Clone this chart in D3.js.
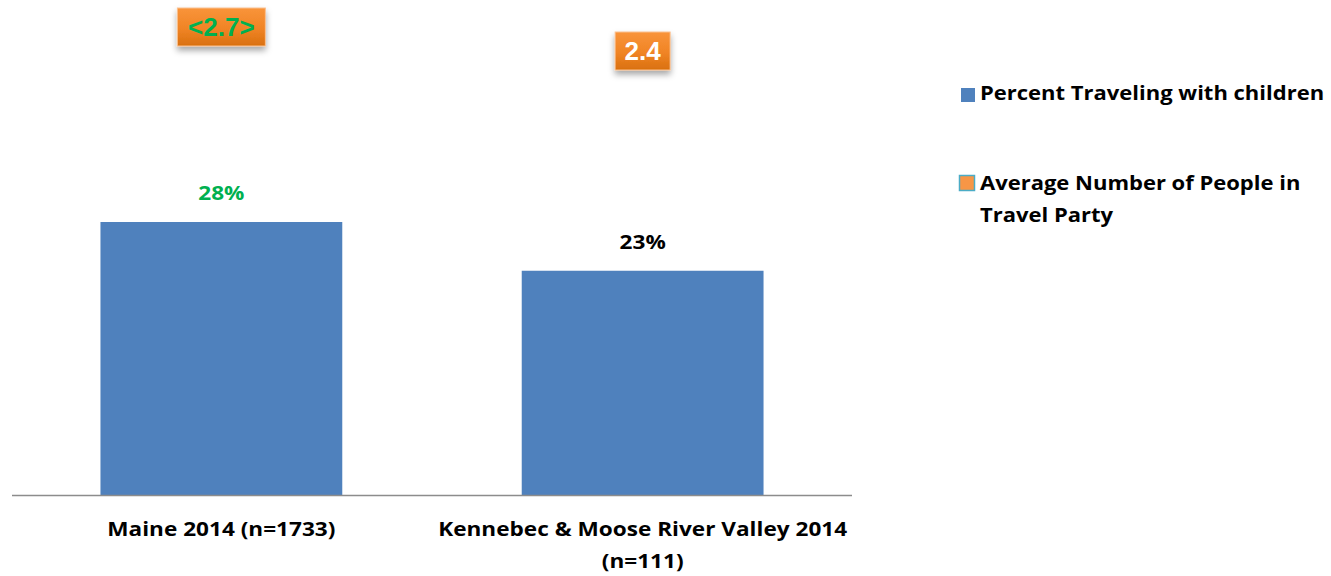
<!DOCTYPE html>
<html>
<head>
<meta charset="utf-8">
<script src="https://cdn.jsdelivr.net/npm/d3@7"></script>
<style>
  html, body { margin: 0; padding: 0; background: #fff; }
  svg { display: block; }
</style>
</head>
<body>
<svg id="chart" width="1331" height="576"></svg>
<script>
// Data
const categories = ["Maine 2014 (n=1733)", "Kennebec & Moose River Valley 2014 (n=111)"];
const categoryLines = [["Maine 2014 (n=1733)"], ["Kennebec & Moose River Valley 2014", "(n=111)"]];
const pctWithChildren = [28, 23];
const pctLabels = ["28%", "23%"];
const avgPartySize = [2.7, 2.4];
const avgLabels = ["<2.7>", "2.4"];
const seriesNames = ["Percent Traveling with children", ["Average Number of People in", "Travel Party"]];

const svg = d3.select("#chart");
const font = "'Open Sans', Lato, sans-serif";
const fontSize = 20;

// Scales
const x = d3.scaleBand().domain(categories).range([12, 852]).paddingInner(0.426).paddingOuter(0.21);
const y = d3.scaleLinear().domain([0, 50]).range([495, 7.5]);
const y2 = d3.scaleLinear().domain([2, 3]).range([83, 3]);

// Text helper: bold label anchored at (tx, ty), slightly widened, optionally multi-line
function label(parent, tx, ty, lines, anchor, fill, lineGap, stretch) {
  const t = parent.append("text")
    .attr("transform", `translate(${tx},${ty}) scale(${stretch},1)`)
    .attr("text-anchor", anchor)
    .attr("font-family", font).attr("font-weight", "bold").attr("font-size", fontSize)
    .attr("fill", fill);
  [].concat(lines).forEach((line, j) => {
    t.append("tspan").attr("x", 0).attr("dy", j === 0 ? 0 : lineGap).text(line);
  });
  return t;
}

// Drop shadow + gradient for the callout boxes
const defs = svg.append("defs");
const f = defs.append("filter").attr("id", "shadow").attr("x", "-30%").attr("y", "-30%").attr("width", "160%").attr("height", "180%");
f.append("feDropShadow").attr("dx", 0).attr("dy", 4).attr("stdDeviation", 3).attr("flood-color", "#000").attr("flood-opacity", 0.35);
const grad = defs.append("linearGradient").attr("id", "orangeGrad").attr("x1", 0).attr("y1", 0).attr("x2", 0).attr("y2", 1);
grad.append("stop").attr("offset", "0%").attr("stop-color", "#F9943A");
grad.append("stop").attr("offset", "55%").attr("stop-color", "#F08425");
grad.append("stop").attr("offset", "100%").attr("stop-color", "#D9700F");

// Bars
svg.append("g").selectAll("rect").data(categories).join("rect")
  .attr("x", d => x(d))
  .attr("y", (d, i) => y(pctWithChildren[i]))
  .attr("width", x.bandwidth())
  .attr("height", (d, i) => y(0) - y(pctWithChildren[i]))
  .attr("fill", "#4F81BD");

// Baseline axis
svg.append("line")
  .attr("x1", 12).attr("x2", 852)
  .attr("y1", y(0) + 0.5).attr("y2", y(0) + 0.5)
  .attr("stroke", "#8C8C8C").attr("stroke-width", 1.5);

// Bar value labels and category labels
const labels = svg.append("g");
categories.forEach((c, i) => {
  const cx = x(c) + x.bandwidth() / 2;
  label(labels, cx, y(pctWithChildren[i]) - 22, pctLabels[i], "middle", i === 0 ? "#00B050" : "#000", 0, 1.13);
  label(labels, cx, 536, categoryLines[i], "middle", "#000", 32, 1.13);
});

// Average party size callouts
const boxW = [88, 55], boxH = 38;
categories.forEach((c, i) => {
  const cx = x(c) + x.bandwidth() / 2;
  const cy = y2(avgPartySize[i]);
  const g = svg.append("g");
  g.append("rect")
    .attr("x", cx - boxW[i] / 2).attr("y", cy - boxH / 2)
    .attr("width", boxW[i]).attr("height", boxH)
    .attr("fill", "url(#orangeGrad)")
    .attr("stroke", "#FAC090").attr("stroke-width", 1)
    .attr("filter", "url(#shadow)");
  g.append("text")
    .attr("x", cx).attr("y", cy + 9)
    .attr("text-anchor", "middle")
    .attr("font-family", "'Liberation Sans', Arial, sans-serif").attr("font-weight", "bold").attr("font-size", 26)
    .attr("fill", i === 0 ? "#00B050" : "#fff")
    .text(avgLabels[i]);
});

// Legend
const legend = svg.append("g");
legend.append("rect").attr("x", 961).attr("y", 88).attr("width", 14).attr("height", 14).attr("fill", "#4F81BD");
label(legend, 980, 100, seriesNames[0], "start", "#000", 0, 1.1);
legend.append("rect").attr("x", 959.5).attr("y", 175.5).attr("width", 15).attr("height", 15)
  .attr("fill", "#F79646").attr("stroke", "#4BACC6").attr("stroke-width", 1.5);
label(legend, 980, 190, seriesNames[1], "start", "#000", 32, 1.1);
</script>
</body>
</html>
